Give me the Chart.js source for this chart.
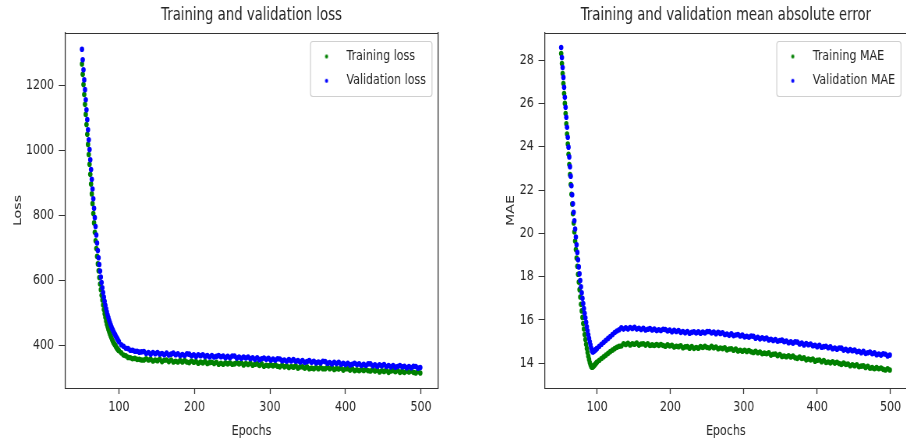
<!DOCTYPE html>
<html><head><meta charset="utf-8">
<script src="https://cdn.jsdelivr.net/npm/chart.js@4.4.1/dist/chart.umd.min.js"></script>
<style>
html,body{margin:0;padding:0;background:#fff;overflow:hidden;width:906px;height:440px;}
#wrapL{position:absolute;left:0;top:0;width:453px;height:440px;}
#wrapR{position:absolute;left:453px;top:0;width:462px;height:440px;}
canvas{position:absolute;left:0;top:0;transform-origin:0 0;transform:scaleX(0.78);}
</style></head><body>
<div id="wrapL"><canvas id="cL" width="581" height="440"></canvas></div>
<div id="wrapR"><canvas id="cR" width="592" height="440"></canvas></div>
<script>
// ---------- data ----------
const EPOCHS = [51,52,53,54,55,56,57,58,59,60,61,62,63,64,65,66,67,68,69,70,71,72,73,74,75,76,77,78,79,80,81,82,83,84,85,86,87,88,89,90,91,92,93,94,95,96,97,98,99,100,
103,106,109,112,115,118,121,124,127,130,133,136,139,142,145,148,151,154,157,160,163,166,169,172,175,178,181,184,187,190,193,196,199,202,205,208,211,214,217,220,
223,226,229,232,235,238,241,244,247,250,253,256,259,262,265,268,271,274,277,280,283,286,289,292,295,298,301,304,307,310,313,316,319,322,325,328,331,334,337,340,
343,346,349,352,355,358,361,364,367,370,373,376,379,382,385,388,391,394,397,400,403,406,409,412,415,418,421,424,427,430,433,436,439,442,445,448,451,454,457,460,
463,466,469,472,475,478,481,484,487,490,493,496,499];

const TRAIN_LOSS = [1265,1233,1202,1171,1141,1110,1079,1049,1018,987,957,926,896,866,836,806,777,748,722,698,674,651,630,609,589,572,555,540,525,511,498,487,476,466,458,450,443,436,430,424,418,413,408,404,401,397,393,390,387,384,
378,371,369,364,363,360,361,358,358,356,
356,360,356,358,353,356,354,358,351,355,
356,351,356,350,352,350,354,350,354,350,
348,353,349,351,346,350,347,351,345,348,
349,345,349,343,346,343,347,344,347,343,
344,348,344,347,341,345,342,346,340,343,
344,339,344,337,340,338,341,338,341,337,
335,340,335,338,333,336,334,338,331,335,
335,331,335,329,331,329,333,329,333,329,
329,334,329,332,327,330,328,331,325,329,
329,325,329,323,326,323,327,324,327,323,
322,326,322,325,319,323,321,324,318,322,
324,320,324,318,321,318,322,319,322,318,
316,321,316];

const VAL_LOSS = [1310,1278,1247,1216,1186,1155,1124,1094,1063,1032,1002,971,941,911,881,851,822,793,766,740,715,692,670,649,629,611,594,578,563,549,536,524,513,503,494,486,478,471,464,458,452,447,442,437,433,428,424,420,416,412,
403,398,392,391,386,386,383,383,380,381,
382,376,379,374,379,375,379,374,376,372,
377,371,374,377,372,375,370,373,370,375,
374,369,372,367,372,369,372,367,370,365,
370,365,367,370,366,368,363,367,363,368,
368,362,365,361,365,362,365,360,363,358,
363,357,360,362,358,361,355,359,355,360,
359,354,356,352,357,353,357,352,354,350,
354,349,351,354,349,352,347,350,347,352,
351,346,348,344,349,345,349,343,346,342,
346,341,343,346,342,344,339,343,339,344,
344,338,341,337,341,338,342,336,339,335,
339,334,336,339,335,337,332,336,332,337,
336,331,333];

const TRAIN_MAE = [28.30,27.84,27.38,26.92,26.46,26.00,25.53,25.06,24.59,24.12,23.65,23.18,22.71,22.25,21.80,21.35,20.91,20.48,20.06,19.65,19.25,18.86,18.48,18.11,17.75,17.40,17.06,16.73,16.42,16.12,15.84,15.58,15.33,15.10,14.88,14.68,14.50,14.33,14.18,14.04,13.93,13.85,13.82,13.83,13.86,13.90,13.94,13.98,14.02,14.06,
14.14,14.22,14.30,14.38,14.46,14.54,14.61,14.68,14.74,14.79,
14.80,14.90,14.87,14.92,14.85,14.90,14.88,14.93,14.84,14.89,
14.90,14.84,14.90,14.82,14.85,14.82,14.87,14.83,14.87,14.82,
14.79,14.85,14.80,14.83,14.75,14.79,14.77,14.81,14.72,14.76,
14.77,14.70,14.77,14.69,14.73,14.70,14.77,14.73,14.78,14.73,
14.71,14.78,14.72,14.75,14.67,14.71,14.68,14.72,14.62,14.66,
14.67,14.60,14.66,14.57,14.60,14.56,14.60,14.55,14.59,14.53,
14.50,14.55,14.49,14.52,14.44,14.47,14.44,14.48,14.38,14.42,
14.43,14.35,14.41,14.32,14.34,14.30,14.35,14.29,14.33,14.26,
14.23,14.29,14.22,14.25,14.16,14.20,14.16,14.20,14.10,14.14,
14.15,14.07,14.13,14.04,14.06,14.02,14.07,14.01,14.05,13.99,
13.95,14.01,13.95,13.97,13.89,13.93,13.89,13.93,13.84,13.87,
13.88,13.81,13.86,13.77,13.80,13.75,13.80,13.75,13.78,13.72,
13.69,13.75,13.69];

const VAL_MAE = [28.58,28.12,27.66,27.20,26.74,26.28,25.82,25.36,24.90,24.44,23.98,23.53,23.08,22.64,22.20,21.78,21.37,20.97,20.58,20.20,19.83,19.47,19.12,18.78,18.45,18.13,17.82,17.53,17.26,17.00,16.76,16.53,16.31,16.10,15.89,15.69,15.50,15.32,15.15,14.99,14.84,14.70,14.58,14.52,14.54,14.57,14.60,14.63,14.66,14.69,
14.79,14.88,14.97,15.06,15.15,15.24,15.33,15.42,15.49,15.55,
15.64,15.58,15.64,15.58,15.65,15.61,15.66,15.58,15.62,15.56,
15.62,15.54,15.57,15.60,15.54,15.58,15.51,15.55,15.51,15.57,
15.56,15.49,15.53,15.46,15.52,15.47,15.51,15.43,15.47,15.41,
15.47,15.39,15.43,15.46,15.40,15.45,15.39,15.44,15.40,15.47,
15.47,15.40,15.44,15.37,15.43,15.38,15.41,15.33,15.35,15.29,
15.36,15.28,15.31,15.33,15.26,15.30,15.22,15.25,15.20,15.26,
15.25,15.16,15.20,15.13,15.18,15.13,15.17,15.08,15.11,15.05,
15.10,15.02,15.05,15.07,15.00,15.03,14.95,14.99,14.93,14.99,
14.98,14.89,14.93,14.85,14.91,14.86,14.89,14.81,14.83,14.77,
14.83,14.74,14.77,14.79,14.72,14.76,14.67,14.71,14.65,14.71,
14.70,14.61,14.65,14.58,14.63,14.58,14.61,14.53,14.56,14.49,
14.55,14.46,14.49,14.52,14.44,14.48,14.40,14.43,14.38,14.44,
14.42,14.34,14.38];

const EPOCH_TICKS = [100,200,300,400,500];
const LOSS_TICKS = [400,600,800,1000,1200];
const MAE_TICKS = [14,16,18,20,22,24,26,28];

// ---------- styling ----------
const S = 0.78;                       // horizontal squeeze of the whole figure (CSS scaleX)
const FONT = "'DejaVu Sans','Liberation Sans',sans-serif";
const GREEN = 'rgb(0,128,0)';
const BLUE = 'rgb(0,0,255)';
const INK = '#262626';
const AXIS = '#333333';
Chart.defaults.font.family = FONT;
Chart.defaults.color = INK;

function dotImage(color) {
  const c = document.createElement('canvas');
  c.width = 8; c.height = 8;
  const g = c.getContext('2d');
  g.fillStyle = color;
  g.beginPath(); g.arc(4, 4, 2.0, 0, Math.PI * 2); g.fill();
  return c;
}

const LEG_FONT = 14.2, LEG_PAD = 10.1, LEG_BOXW = 37;

const legendBox = {
  id: 'legendBox',
  afterLayout(chart) {
    const lg = chart.legend, ca = chart.chartArea, ctx = chart.ctx;
    if (!lg || !lg.legendItems) return;
    ctx.save();
    ctx.font = LEG_FONT + 'px ' + FONT;
    const maxW = Math.max(...lg.legendItems.map(it => ctx.measureText(it.text).width));
    ctx.restore();
    const frameRight = ca.right - 6 / S;
    const textX = frameRight - 6 / S - maxW;
    const left = textX - LEG_BOXW - LEG_FONT / 2 - LEG_PAD;
    const top = ca.top + 6.3;
    lg.left = left; lg.right = frameRight + 4;
    lg.top = top; lg.bottom = top + 120;
    lg.width = lg.right - lg.left; lg.height = 120;
    const dotX = left + LEG_PAD + LEG_BOXW / 2;
    const fx = dotX - 16 / S;
    chart.$frame = {x: fx, y: ca.top + 7.5, w: frameRight - fx, h: 55};
  },
  beforeDraw(chart) {
    const f = chart.$frame; if (!f) return;
    const ctx = chart.ctx;
    ctx.save();
    ctx.fillStyle = 'rgba(255,255,255,0.8)';
    ctx.strokeStyle = '#d0d0d0';
    ctx.lineWidth = 1.2;
    ctx.beginPath();
    ctx.roundRect(f.x, Math.round(f.y) + 0.5, f.w, Math.round(f.h), 3);
    ctx.fill(); ctx.stroke();
    ctx.restore();
  }
};

function pts(xs, ys) { return xs.map((x, i) => ({x: x, y: ys[i]})); }

function build(canvasId, cfg) {
  return new Chart(document.getElementById(canvasId), {
    type: 'scatter',
    data: {
      datasets: [
        {label: cfg.labels[0], data: pts(EPOCHS, cfg.train), backgroundColor: GREEN, borderColor: GREEN,
         pointRadius: 2.8, pointBorderWidth: 0, pointHoverRadius: 2.8, order: 1},
        {label: cfg.labels[1], data: pts(EPOCHS, cfg.val), backgroundColor: BLUE, borderColor: BLUE,
         pointRadius: 2.8, pointBorderWidth: 0, pointHoverRadius: 2.8, order: 0}
      ]
    },
    options: {
      responsive: false, animation: false, devicePixelRatio: 1, events: [],
      layout: {padding: {left: 0, right: cfg.padRight, top: 0, bottom: 0}},
      scales: {
        x: {
          type: 'linear', position: 'bottom', min: 28.55, max: 522.45,
          grid: {display: true, drawOnChartArea: false, drawTicks: true, tickLength: 6, tickColor: AXIS, tickWidth: 1.28},
          border: {display: true, color: AXIS, width: 1},
          afterBuildTicks: s => { s.ticks = EPOCH_TICKS.map(v => ({value: v})); },
          afterFit: s => { s.height = 52; },
          ticks: {font: {size: 14.2, family: FONT}, color: INK, padding: 5, maxRotation: 0, autoSkip: false,
                  callback: v => String(v)},
          title: {display: true, text: 'Epochs', font: {size: 14.2, family: FONT}, color: INK, padding: {top: 0, bottom: 0.5}}
        },
        y: {
          type: 'linear', position: 'left', min: cfg.yMin, max: cfg.yMax,
          grid: {display: true, drawOnChartArea: false, drawTicks: true, tickLength: 8, tickColor: AXIS, tickWidth: 1},
          border: {display: true, color: AXIS, width: 1.28},
          afterBuildTicks: s => { s.ticks = cfg.yTicks.map(v => ({value: v})); },
          afterFit: s => { s.width = cfg.yWidth; },
          ticks: {font: {size: 14.2, family: FONT}, color: INK, padding: 6, autoSkip: false,
                  callback: v => String(v)},
          title: {display: true, text: cfg.yTitle, font: {size: 14.2, family: FONT}, color: INK,
                  padding: {top: cfg.yTitlePad, bottom: 0}}
        },
        xTop: {type: 'linear', position: 'top', display: true,
          grid: {display: false}, ticks: {display: false}, border: {display: true, color: AXIS, width: 1},
          afterFit: s => { s.height = 0; }},
        yRight: {type: 'linear', position: 'right', display: true,
          grid: {display: false}, ticks: {display: false}, border: {display: true, color: AXIS, width: 1.28},
          afterFit: s => { s.width = 0; }}
      },
      plugins: {
        title: {display: true, text: cfg.title, fullSize: false, color: INK,
                font: {size: 17, family: FONT, weight: 'normal'}, padding: {top: 5.3, bottom: 7.3}},
        legend: {
          display: true, position: 'chartArea', align: 'start',
          labels: {
            usePointStyle: true, pointStyleWidth: LEG_BOXW, boxHeight: 4, padding: LEG_PAD, color: INK,
            font: {size: LEG_FONT, family: FONT},
            generateLabels: chart => chart.data.datasets.map((ds, i) => ({
              text: ds.label, datasetIndex: i, hidden: false, lineWidth: 0,
              fillStyle: ds.backgroundColor, strokeStyle: ds.backgroundColor,
              pointStyle: dotImage(ds.backgroundColor), fontColor: INK
            }))
          }
        },
        tooltip: {enabled: false}
      }
    },
    plugins: [legendBox]
  });
}

build('cL', {
  title: 'Training and validation loss', labels: ['Training loss', 'Validation loss'],
  train: TRAIN_LOSS, val: VAL_LOSS, yMin: 270, yMax: 1360, yTicks: LOSS_TICKS,
  yTitle: 'Loss', yWidth: 65 / S, yTitlePad: 14.5, padRight: 581 - 438 / S
});
build('cR', {
  title: 'Training and validation mean absolute error', labels: ['Training MAE', 'Validation MAE'],
  train: TRAIN_MAE, val: VAL_MAE, yMin: 12.86, yMax: 29.25, yTicks: MAE_TICKS,
  yTitle: 'MAE', yWidth: 91.7 / S, yTitlePad: 66, padRight: 592 - 454 / S
});
</script></body></html>
